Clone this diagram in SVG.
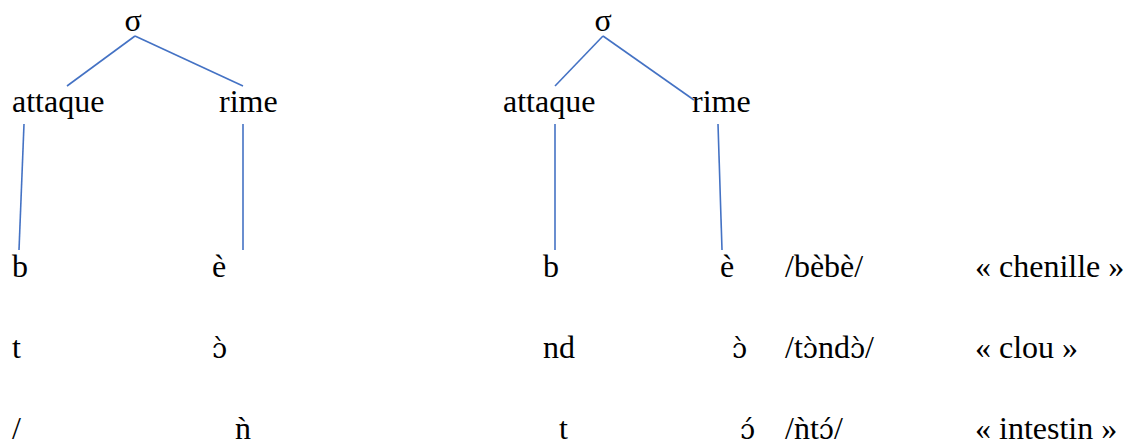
<svg xmlns="http://www.w3.org/2000/svg" width="1129" height="444" viewBox="0 0 1129 444">
<style>
text{font-family:"Liberation Serif","Times New Roman",serif;font-size:32px;fill:#000}
.m{text-anchor:middle}
.ipa{font-family:"DejaVu Serif",serif;font-size:27px}
line{stroke:#4472C4;stroke-width:1.6}
</style>
<rect width="1129" height="444" fill="#fff"/>
<g id="connectors">
<line x1="135" y1="36" x2="67" y2="86"/>
<line x1="135" y1="36" x2="243" y2="86"/>
<line x1="24" y1="124" x2="19" y2="250"/>
<line x1="243" y1="124" x2="243" y2="250"/>
<line x1="603" y1="36" x2="555" y2="86"/>
<line x1="603" y1="36" x2="694" y2="100"/>
<line x1="555" y1="124" x2="555" y2="250"/>
<line x1="718" y1="124" x2="722" y2="250"/>
</g>
<g id="tree1">
<g id="t1-sigma"><text class="m" x="133" y="31">σ</text></g>
<g id="t1-attaque"><text x="12" y="112">attaque</text></g>
<g id="t1-rime"><text x="219" y="112">rime</text></g>
<g id="t1-b"><text x="12" y="277">b</text></g>
<g id="t1-e"><text x="212" y="277">è</text></g>
<g id="t1-t"><text x="12" y="358">t</text></g>
<g id="t1-o"><text x="212" y="358"><tspan class="ipa">ɔ̀</tspan></text></g>
<g id="t1-slash"><text x="12" y="439">/</text></g>
<g id="t1-n"><text x="235" y="439">ǹ</text></g>
</g>
<g id="tree2">
<g id="t2-sigma"><text class="m" x="603" y="31">σ</text></g>
<g id="t2-attaque"><text x="503" y="112">attaque</text></g>
<g id="t2-rime"><text x="692" y="112">rime</text></g>
<g id="t2-b"><text x="543" y="277">b</text></g>
<g id="t2-e"><text x="720" y="277">è</text></g>
<g id="t2-nd"><text x="543" y="358">nd</text></g>
<g id="t2-o"><text x="732" y="358"><tspan class="ipa">ɔ̀</tspan></text></g>
<g id="t2-t"><text x="559" y="439">t</text></g>
<g id="t2-o2"><text x="740" y="439"><tspan class="ipa">ɔ́</tspan></text></g>
</g>
<g id="glosses">
<text x="785" y="277">/bèbè/</text>
<text x="975" y="277">« chenille »</text>
<text x="785" y="358">/t<tspan class="ipa">ɔ̀</tspan>nd<tspan class="ipa">ɔ̀</tspan>/</text>
<text x="975" y="358">« clou »</text>
<text x="785" y="439">/ǹt<tspan class="ipa">ɔ́</tspan>/</text>
<text x="975" y="439">« intestin »</text>
</g>
</svg>
